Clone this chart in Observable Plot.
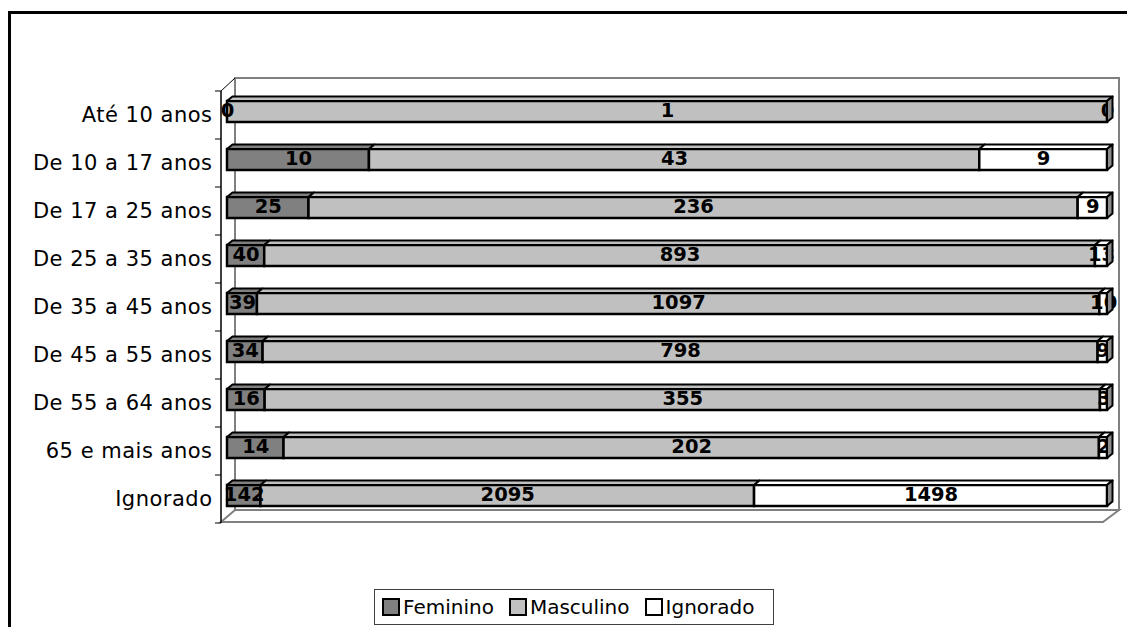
<!DOCTYPE html>
<html><head><meta charset="utf-8">
<script src="https://cdn.jsdelivr.net/npm/d3@7"></script>
<script src="https://cdn.jsdelivr.net/npm/@observablehq/plot@0.6"></script>
<style>
body{margin:0;background:#fff;font-family:"DejaVu Sans",Verdana,sans-serif;}
#frame{position:absolute;left:8px;top:11px;width:1300px;height:800px;border:3px solid #000;box-sizing:border-box;}
#chart{position:absolute;left:0;top:0;}
#chart g[aria-label="y-axis tick label"] text{letter-spacing:0.5px;}
#legend{position:absolute;left:374px;top:589px;width:400px;height:36px;border:1px solid #404040;box-sizing:border-box;background:#fff;display:flex;align-items:center;padding-left:7px;font-size:20px;color:#000;}
.item{display:flex;align-items:center;margin-right:15px;}
.sw{width:14px;height:14px;border:2px solid #000;margin-right:3px;}
</style></head>
<body>
<div id="frame"></div>
<div id="chart"></div>
<div id="legend"></div>
<script>
const categories = ["Até 10 anos","De 10 a 17 anos","De 17 a 25 anos","De 25 a 35 anos","De 35 a 45 anos","De 45 a 55 anos","De 55 a 64 anos","65 e mais anos","Ignorado"];
const series = ["Feminino","Masculino","Ignorado"];
const feminino = [0,10,25,40,39,34,16,14,142];
const masculino = [1,43,236,893,1097,798,355,202,2095];
const ignorado = [0,9,9,13,10,9,3,2,1498];
const colors = ["#808080","#c0c0c0","#ffffff"];
const sideColors = ["#5a5a5a","#808080","#8c8c8c"];

const values = [feminino, masculino, ignorado];
const rows = [];
categories.forEach((c,i)=> series.forEach((s,j)=> rows.push({cat:c, serie:s, value: values[j][i]})));

const plot = Plot.plot({
  width:1127, height:560,
  marginLeft:227, marginRight:20, marginTop:91, marginBottom:37,
  style:{background:"transparent", fontFamily:"DejaVu Sans, Verdana, sans-serif", fontSize:"21px", color:"#000"},
  x:{domain:[0,1], axis:null},
  y:{domain:categories, paddingInner:0.5625, paddingOuter:0.28125, axis:null},
  color:{domain:series, range:colors},
  marks:[
    Plot.barX(rows, Plot.stackX({offset:"normalize", order:series, x:"value", y:"cat", fill:"serie", z:"serie", stroke:"#000", strokeWidth:2.5, dy:-4})),
    Plot.text(rows, Plot.stackX({offset:"normalize", order:series, x:"value", y:"cat", z:"serie", text:d=>String(d.value), fontWeight:"bold", fontSize:19.5, fill:"#000", dy:-5})),
    Plot.axisY({tickSize:0, tickPadding:15, fontSize:21, dy:-1, textAnchor:"end", label:null})
  ]
});
document.getElementById("chart").appendChild(plot);

// 3D decoration derived from the plot's scales
const xs = plot.scale("x"), ys = plot.scale("y");
const svg = d3.select(plot);
const [xa, xb] = xs.range;
const [ya, yb] = ys.range;
const step = ys.step;
const axX = xa - 6;
const wallDX = 14, wallDY = 13;
const walls = svg.insert("g", "g");
walls.append("rect").attr("x", axX+wallDX).attr("y", ya-wallDY).attr("width", (xb+12)-(axX+wallDX)).attr("height", (yb-wallDY)-(ya-wallDY))
  .attr("fill","#fff").attr("stroke","#808080").attr("stroke-width",2);
walls.append("path").attr("d", `M${axX},${yb-1}L${xb-4},${yb-1}L${xb+12},${yb-wallDY}L${axX+wallDX},${yb-wallDY}Z`)
  .attr("fill","#fff").attr("stroke","#808080").attr("stroke-width",2);
walls.append("path").attr("d", `M${axX},${ya}L${axX+wallDX},${ya-wallDY}`).attr("stroke","#000").attr("stroke-width",1);
walls.append("path").attr("d", `M${axX},${ya}L${axX},${yb}`).attr("stroke","#000").attr("stroke-width",1.5);
for (let i=0;i<=categories.length;i++){
  const yy = ya + i*step;
  walls.append("path").attr("d", `M${axX-6},${yy}L${axX},${yy}`).attr("stroke","#000").attr("stroke-width",1);
}

// top and side faces of bars
const barG = svg.select('g[aria-label="bar"]');
const tr = barG.attr("transform");
const faces = svg.append("g").attr("transform", tr).attr("stroke","#000").attr("stroke-width",2).attr("stroke-linejoin","round");
const rects = barG.selectAll("rect").nodes().map(r=>({x:+r.getAttribute("x"), y:+r.getAttribute("y"), w:+r.getAttribute("width"), h:+r.getAttribute("height"), fill:r.getAttribute("fill")}));
const fdx = 5.5, fdy = 4.5;
rects.forEach(r=>{
  if (r.w > 0) faces.append("path").attr("d", `M${r.x},${r.y}L${r.x+r.w},${r.y}L${r.x+r.w+fdx},${r.y-fdy}L${r.x+fdx},${r.y-fdy}Z`).attr("fill", r.fill);
});
const byY = d3.group(rects, r=>r.y);
for (const [yy, rs] of byY){
  const last = rs.reduce((a,b)=> (b.x+b.w >= a.x+a.w ? b : a));
  const idx = colors.indexOf(last.fill);
  const sc = idx >= 0 ? sideColors[idx] : "#808080";
  const X = last.x + last.w;
  faces.append("path").attr("d", `M${X},${last.y}L${X+fdx},${last.y-fdy}L${X+fdx},${last.y+last.h-fdy}L${X},${last.y+last.h}Z`).attr("fill", sc);
}

// legend
const leg = d3.select("#legend");
series.forEach((s,i)=>{
  const it = leg.append("div").attr("class","item");
  it.append("div").attr("class","sw").style("background", colors[i]);
  it.append("span").text(s);
});
</script>
</body></html>
